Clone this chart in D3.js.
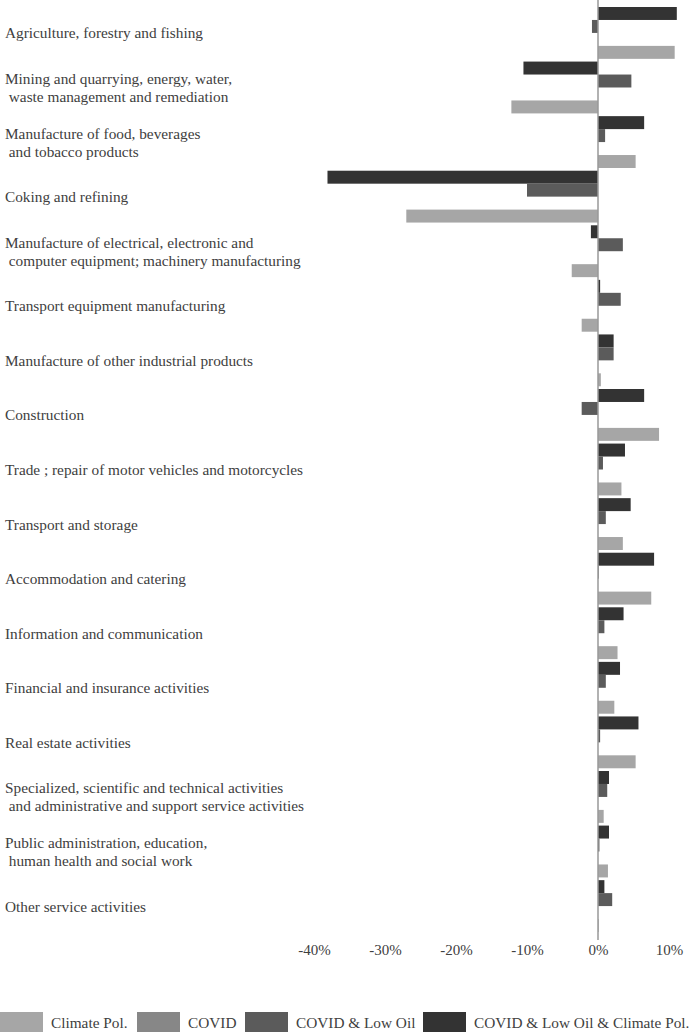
<!DOCTYPE html>
<html lang="en">
<head>
    <meta charset="UTF-8">
    <title>Sector impacts</title>
    <script src="https://cdn.jsdelivr.net/npm/d3@7/dist/d3.min.js"></script>
    <style>
        body { margin: 0; background: #fff; }
        text { font-family: "Liberation Serif", "Times New Roman", serif; fill: #404040; }
    </style>
</head>
<body>
<script>
    // sectors, each label split into its lines
    var sectors = [
        ["Agriculture, forestry and fishing"],
        ["Mining and quarrying, energy, water,", " waste management and remediation"],
        ["Manufacture of food, beverages", " and tobacco products"],
        ["Coking and refining"],
        ["Manufacture of electrical, electronic and", " computer equipment; machinery manufacturing"],
        ["Transport equipment manufacturing"],
        ["Manufacture of other industrial products"],
        ["Construction"],
        ["Trade ; repair of motor vehicles and motorcycles"],
        ["Transport and storage"],
        ["Accommodation and catering"],
        ["Information and communication"],
        ["Financial and insurance activities"],
        ["Real estate activities"],
        ["Specialized, scientific and technical activities", " and administrative and support service activities"],
        ["Public administration, education,", " human health and social work"],
        ["Other service activities"]
    ];

    // values in %
    var climatePol    = [10.8, -12.2, 5.3, -27.0, -3.7, -2.3, 0.4, 8.6, 3.3, 3.5, 7.5, 2.75, 2.3, 5.3, 0.8, 1.4, 0.1];
    var covid         = [0, 0, 0, 0, 0, 0, 0, 0, 0, 0, 0, 0, 0, 0, 0, 0, 0];
    var covidLowOil   = [-0.85, 4.7, 1.0, -10.0, 3.5, 3.2, 2.2, -2.3, 0.7, 1.1, 0.1, 0.9, 1.1, 0.3, 1.3, 0.2, 2.0];
    var covidLowOilCP = [11.1, -10.5, 6.5, -38.1, -1.0, 0.3, 2.2, 6.5, 3.8, 4.6, 7.9, 3.6, 3.1, 5.7, 1.55, 1.55, 0.9];

    var seriesNames = ["Climate Pol.", "COVID", "COVID & Low Oil", "COVID & Low Oil & Climate Pol."];
    var seriesValues = [climatePol, covid, covidLowOil, covidLowOilCP];
    var colors = ["#a6a6a6", "#878787", "#5b5b5b", "#333333"];
    var ticks = [-40, -30, -20, -10, 0, 10];

    var width = 690, height = 1032;

    var svg = d3.select("body").append("svg")
        .attr("width", width)
        .attr("height", height);

    var x = d3.scaleLinear().domain([-40, 10]).range([314, 669]);

    var y = d3.scaleBand()
        .domain(d3.range(sectors.length))
        .range([7, 932])
        .paddingInner(0.05)
        .paddingOuter(0);

    // bar order inside a group, top to bottom
    var order = [3, 2, 1, 0];
    var yInner = d3.scaleBand()
        .domain(order)
        .range([0, y.bandwidth()]);

    var groups = svg.selectAll(".group")
        .data(sectors)
        .enter().append("g")
        .attr("class", "group")
        .attr("transform", function(d, i) { return "translate(0," + y(i) + ")"; });

    groups.selectAll("rect")
        .data(function(d, i) {
            return order.map(function(s) { return {s: s, v: seriesValues[s][i]}; });
        })
        .enter().append("rect")
        .attr("x", function(d) { return x(Math.min(0, d.v)); })
        .attr("y", function(d) { return yInner(d.s); })
        .attr("width", function(d) { return Math.abs(x(d.v) - x(0)); })
        .attr("height", yInner.bandwidth())
        .attr("fill", function(d) { return colors[d.s]; });

    // sector labels
    groups.append("text")
        .attr("x", 5)
        .attr("y", y.bandwidth() / 2)
        .style("font-size", "15.3px")
        .attr("xml:space", "preserve")
        .each(function(d) {
            var t = d3.select(this);
            var lh = 18;
            var start = -(d.length - 1) * lh / 2;
            d.forEach(function(line, k) {
                t.append("tspan")
                    .attr("x", 5)
                    .attr("dy", k === 0 ? (start + 5.5) : lh)
                    .text(line);
            });
        });

    // zero line
    svg.append("line")
        .attr("x1", x(0)).attr("x2", x(0))
        .attr("y1", 0).attr("y2", 940)
        .attr("stroke", "#999")
        .attr("stroke-width", 1.5);

    // x axis
    var xAxis = svg.append("g")
        .attr("transform", "translate(0,940)")
        .call(d3.axisBottom(x).tickValues(ticks).tickSize(0).tickPadding(4)
            .tickFormat(function(d) { return d + "%"; }));
    xAxis.select(".domain").remove();
    xAxis.selectAll("text")
        .style("font-family", "Liberation Serif, Times New Roman, serif")
        .style("font-size", "15px")
        .attr("fill", "#404040");

    // legend
    var legendX = [0, 137, 245, 423];
    var legend = svg.selectAll(".legend")
        .data(seriesNames)
        .enter().append("g")
        .attr("class", "legend")
        .attr("transform", function(d, i) { return "translate(" + legendX[i] + ",1012)"; });
    legend.append("rect")
        .attr("width", 43).attr("height", 22)
        .attr("fill", function(d, i) { return colors[i]; });
    legend.append("text")
        .attr("x", 51).attr("y", 16)
        .style("font-size", "15.3px")
        .text(function(d) { return d; });
</script>
</body>
</html>
